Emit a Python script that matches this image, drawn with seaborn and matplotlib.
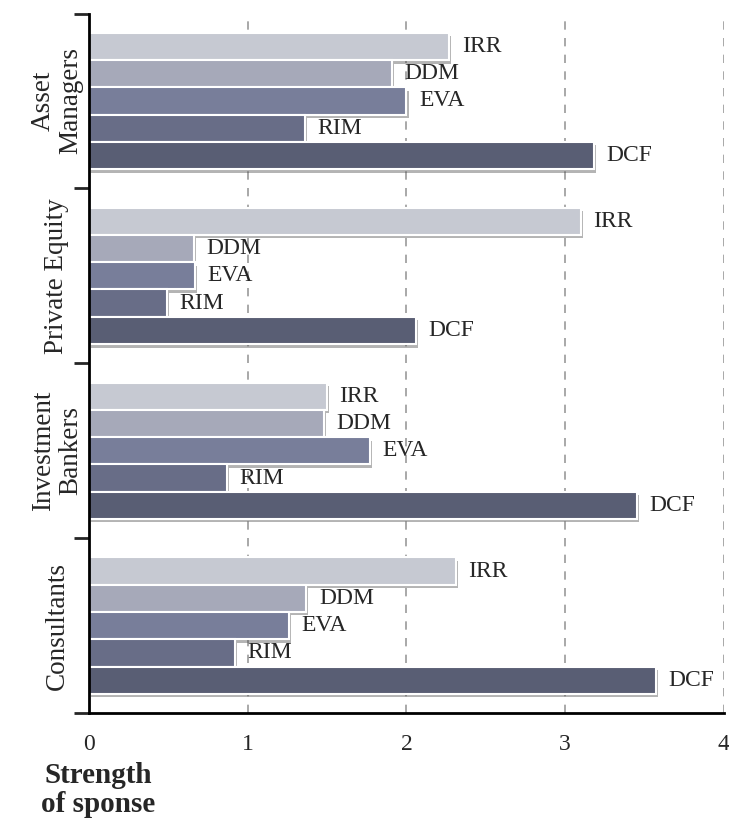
import pandas as pd
import matplotlib.pyplot as plt
import matplotlib.patheffects as pe
import seaborn as sns

# data
groups = ['Asset Managers', 'Private Equity', 'Investment Bankers', 'Consultants']
group_labels = ['Asset\nManagers', 'Private Equity', 'Investment\nBankers', 'Consultants']
methods = ['IRR', 'DDM', 'EVA', 'RIM', 'DCF']
irr = [2.27, 3.10, 1.50, 2.31]
ddm = [1.91, 0.66, 1.48, 1.37]
eva = [2.00, 0.67, 1.77, 1.26]
rim = [1.36, 0.49, 0.87, 0.92]
dcf = [3.18, 2.06, 3.45, 3.57]
colors = ['#c4c8d4', '#a3a7bc', '#727ba0', '#636a8c', '#555b78']

rows = []
for m, vals in zip(methods, [irr, ddm, eva, rim, dcf]):
    for g, v in zip(groups, vals):
        rows.append({'Group': g, 'Method': m, 'Score': v})
df = pd.DataFrame(rows)

sns.set_theme(style='white')
plt.rcParams['font.family'] = ['Liberation Serif', 'DejaVu Serif']

fig = plt.figure(figsize=(7.29, 8.21), dpi=100)
ax = fig.add_axes([0.122, 0.1315, 0.871, 0.852])

sns.barplot(data=df, y='Group', x='Score', hue='Method', order=groups,
            hue_order=methods, palette=colors, orient='h', width=0.78,
            edgecolor='white', linewidth=1.5, legend=False, ax=ax)

shadow = [pe.SimplePatchShadow(offset=(1.5, -2.5), shadow_rgbFace='#444444', alpha=0.4), pe.Normal()]
for cont, m in zip(ax.containers, methods):
    for bar in cont:
        bar.set_path_effects(shadow)
    ax.bar_label(cont, labels=[m] * len(cont), padding=9, fontsize=17)

ax.set_xlim(0, 4)
ax.set_ylim(3.5, -0.5)
ax.set_xticks([0, 1, 2, 3, 4])
ax.set_xticklabels(['0', '1', '2', '3', '4'], fontsize=17)
ax.tick_params(axis='x', direction='inout', length=10, width=2, pad=10)

# group boundaries as ticks, names in the middle
ax.set_yticks([-0.5, 0.5, 1.5, 2.5, 3.5])
ax.set_yticklabels([])
ax.tick_params(axis='y', direction='out', length=11, width=2, left=True)
ax.set_yticks([0, 1, 2, 3], minor=True)
ax.set_yticklabels(group_labels, minor=True, rotation=90, va='center', ha='center',
                   fontsize=19.5, linespacing=1.15)
ax.tick_params(axis='y', which='minor', length=0, pad=23)

ax.xaxis.grid(True, linestyle=(0, (5, 5)), color='#999999', linewidth=1.2)
ax.set_axisbelow(True)
ax.set_xlabel('')
ax.set_ylabel('')
for s in ['top', 'right']:
    ax.spines[s].set_visible(False)
for s in ['left', 'bottom']:
    ax.spines[s].set_color('black')
    ax.spines[s].set_linewidth(2)

fig.text(0.135, 0.038, 'Strength\nof sponse', ha='center', va='center',
         fontsize=21, fontweight='bold', linespacing=1.1)

fig.savefig('out.png', dpi=100)
